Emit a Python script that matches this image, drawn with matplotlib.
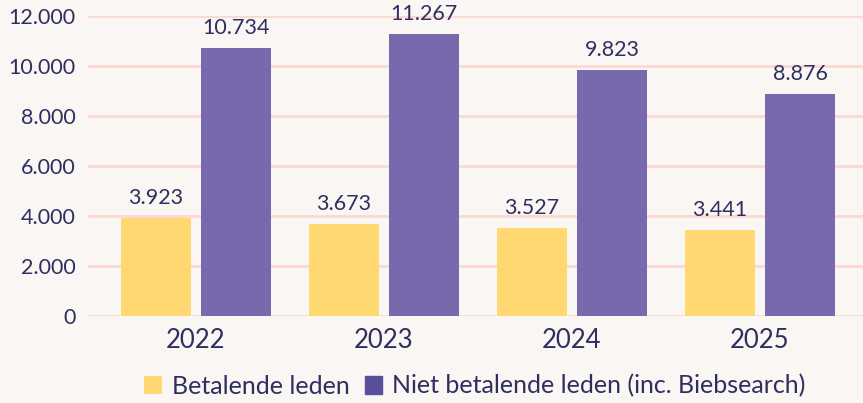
import matplotlib.pyplot as plt
import numpy as np

years = ['2022', '2023', '2024', '2025']
betalend = [3923, 3673, 3527, 3441]
niet_betalend = [10734, 11267, 9823, 8876]
labels_betalend = ['3.923', '3.673', '3.527', '3.441']
labels_niet = ['10.734', '11.267', '9.823', '8.876']

bg = '#faf6f3'
txt = '#2f2f5f'
grid = '#fcd8d2'
yellow = '#ffd872'
purple = '#7769ab'

plt.rcParams['font.family'] = ['Lato', 'DejaVu Sans']

fig = plt.figure(figsize=(8.63, 4.03), dpi=100, facecolor=bg)
ax = fig.add_axes([88 / 863, 1 - 316 / 403, 1 - 88 / 863, 300 / 403])
ax.set_facecolor(bg)

x = np.arange(len(years))
w = 0.372
off = 0.213
b1 = ax.bar(x - off, betalend, w, color=yellow, label='Betalende leden', zorder=3)
b2 = ax.bar(x + off, niet_betalend, w, color=purple, label='Niet betalende leden (inc. Biebsearch)', zorder=3)

for rect, lab in zip(b1, labels_betalend):
    ax.text(rect.get_x() + rect.get_width() / 2, rect.get_height() + 400, lab,
            ha='center', va='bottom', fontsize=15.5, color=txt)
for rect, lab in zip(b2, labels_niet):
    ax.text(rect.get_x() + rect.get_width() / 2, rect.get_height() + 400, lab,
            ha='center', va='bottom', fontsize=15.5, color=txt)

ax.set_ylim(0, 12000)
ax.set_xlim(-0.574, 3.548)
ax.set_yticks(range(0, 12001, 2000))
ax.set_yticklabels(['0', '2.000', '4.000', '6.000', '8.000', '10.000', '12.000'])
ax.set_xticks(x)
ax.set_xticklabels(years)
ax.tick_params(axis='y', length=0, labelsize=15.5, labelcolor=txt, pad=9)
ax.tick_params(axis='x', length=0, labelsize=18.5, labelcolor=txt, pad=9)
ax.yaxis.grid(True, color=grid, linewidth=2, zorder=0)
ax.set_axisbelow(True)
for s in ax.spines.values():
    s.set_visible(False)

leg = fig.legend(handles=[b1, b2], loc='center', bbox_to_anchor=(475 / 863, 1 - 386 / 403),
                 ncol=2, frameon=False, fontsize=18, handlelength=0.7, handleheight=0.7,
                 handletextpad=0.4, columnspacing=0.6)
for t in leg.get_texts():
    t.set_color(txt)
leg.legend_handles[1].set_color('#5a4f9c')

plt.savefig('out.png', dpi=100, facecolor=bg)
plt.close()
